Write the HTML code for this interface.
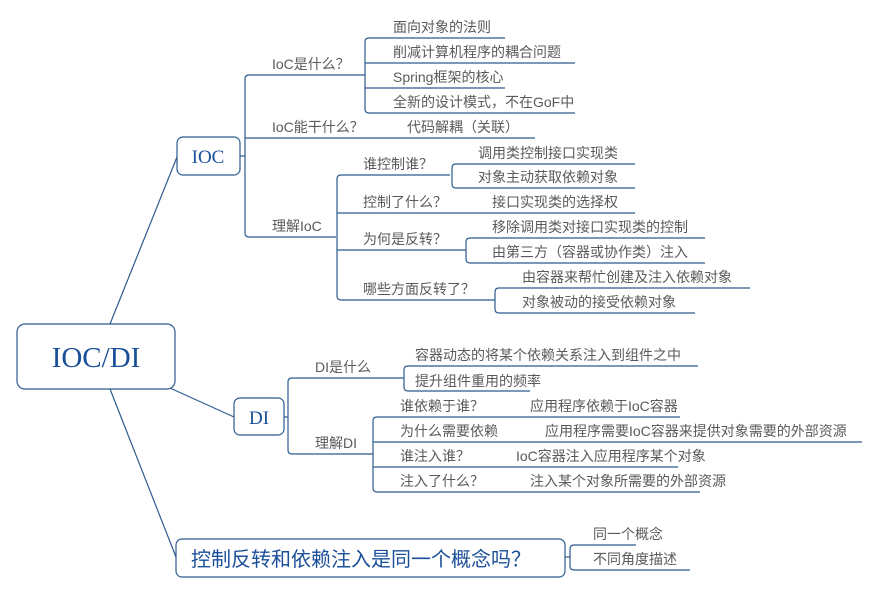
<!DOCTYPE html>
<html><head><meta charset="utf-8"><style>
html,body{margin:0;padding:0;background:#fff;}
svg{display:block;}
text{font-family:"Liberation Sans","Noto Sans CJK SC",sans-serif;font-size:14px;fill:#5a5a5a;}
.s{font-family:"Liberation Serif","Noto Serif CJK SC",serif;fill:#1a4f99;}
</style></head><body>
<svg width="880" height="594" viewBox="0 0 880 594" xmlns="http://www.w3.org/2000/svg">
<g fill="none" stroke="#2d5b8e" stroke-width="1.2">
<path d="M110 324 L177 157"/>
<path d="M170 388 L234 417"/>
<path d="M110 389 L176 557"/>
<rect x="17" y="324" width="158" height="65" rx="8" fill="#fff"/>
<rect x="177" y="137" width="63" height="38" rx="6" fill="#fff"/>
<rect x="234" y="398" width="50" height="37" rx="6" fill="#fff"/>
<rect x="176" y="539" width="389" height="38" rx="6" fill="#fff"/>
<path d="M240 156 H245"/>
<path d="M365 75 H249 Q245 75 245 79 V233 Q245 237 249 237 H336"/>
<path d="M245 138 H535"/>
<path d="M505 38 H369 Q365 38 365 42 V109 Q365 113 369 113 H575"/>
<path d="M365 63 H575"/><path d="M365 88 H505"/>
<path d="M450 175 H341 Q337 175 337 179 V296 Q337 300 341 300 H495"/>
<path d="M337 213 H635"/><path d="M337 250 H466"/>
<path d="M635 164 H456 Q452 164 452 168 V184 Q452 188 456 188 H635"/>
<path d="M705 238 H470 Q466 238 466 242 V259 Q466 263 470 263 H705"/>
<path d="M750 288 H499 Q495 288 495 292 V309 Q495 313 499 313 H695"/>
<path d="M284 417 H288"/>
<path d="M404 378 H292 Q288 378 288 382 V450 Q288 454 292 454 H373"/>
<path d="M698 366 H408 Q404 366 404 370 V387 Q404 391 408 391 H530"/>
<path d="M680 417 H377 Q373 417 373 421 V488 Q373 492 377 492 H700"/>
<path d="M373 442 H862"/><path d="M373 467 H678"/>
<path d="M565 557 H570"/>
<path d="M636 545 H574 Q570 545 570 549 V566 Q570 570 574 570 H690"/>
</g>
<text class="s" x="96" y="367" text-anchor="middle" style="font-size:29px">IOC/DI</text>
<text class="s" x="208" y="163" text-anchor="middle" style="font-size:19px">IOC</text>
<text class="s" x="259" y="424" text-anchor="middle" style="font-size:19px">DI</text>
<text x="191" y="566" style="font-size:20px;fill:#1a4f99">控制反转和依赖注入是同一个概念吗？</text>

<text x="272" y="69">IoC是什么？</text>
<text x="393" y="32">面向对象的法则</text>
<text x="393" y="57">削减计算机程序的耦合问题</text>
<text x="393" y="82">Spring框架的核心</text>
<text x="393" y="107">全新的设计模式，不在GoF中</text>
<text x="272" y="132">IoC能干什么？</text>
<text x="407" y="132">代码解耦（关联）</text>
<text x="272" y="231">理解IoC</text>
<text x="363" y="169">谁控制谁？</text>
<text x="478" y="158">调用类控制接口实现类</text>
<text x="478" y="182">对象主动获取依赖对象</text>
<text x="363" y="207">控制了什么？</text>
<text x="492" y="207">接口实现类的选择权</text>
<text x="363" y="244">为何是反转？</text>
<text x="492" y="232">移除调用类对接口实现类的控制</text>
<text x="492" y="257">由第三方（容器或协作类）注入</text>
<text x="363" y="294">哪些方面反转了？</text>
<text x="522" y="282">由容器来帮忙创建及注入依赖对象</text>
<text x="522" y="307">对象被动的接受依赖对象</text>

<text x="315" y="372">DI是什么</text>
<text x="415" y="360">容器动态的将某个依赖关系注入到组件之中</text>
<text x="415" y="386">提升组件重用的频率</text>
<text x="315" y="448">理解DI</text>
<text x="400" y="411">谁依赖于谁？</text>
<text x="530" y="411">应用程序依赖于IoC容器</text>
<text x="400" y="436">为什么需要依赖</text>
<text x="545" y="436">应用程序需要IoC容器来提供对象需要的外部资源</text>
<text x="400" y="461">谁注入谁？</text>
<text x="516" y="461">IoC容器注入应用程序某个对象</text>
<text x="400" y="486">注入了什么？</text>
<text x="530" y="486">注入某个对象所需要的外部资源</text>

<text x="593" y="539">同一个概念</text>
<text x="593" y="564">不同角度描述</text>
</svg>
</body></html>
